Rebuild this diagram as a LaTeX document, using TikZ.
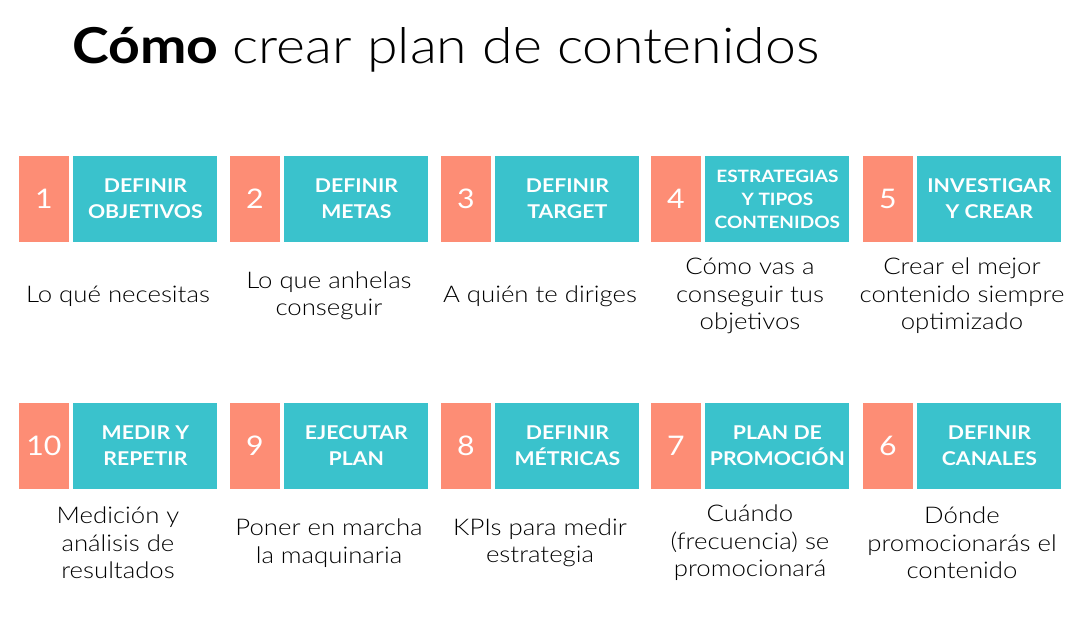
\documentclass[tikz,border=0pt]{standalone}
\usepackage{fontspec}
\setmainfont{Lato}[FakeStretch=1.12]
\newfontfamily\ligera{Lato Light}[FakeStretch=1.12]
\usetikzlibrary{positioning}
\definecolor{salmon}{HTML}{FD8D75}
\definecolor{turquesa}{HTML}{3AC2CC}
\tikzset{
	num box/.style={
		fill=salmon, text=white,
		minimum width=50pt, minimum height=86pt, inner sep=0pt,
		font=\fontsize{27}{27}\selectfont
	},
	paso box/.style={
		fill=turquesa, text=white,
		minimum width=144pt, minimum height=86pt, inner sep=0pt,
		align=center, font=\bfseries\fontsize{19}{26}\selectfont
	},
	paso small/.style={
		paso box, font=\bfseries\fontsize{17}{23}\selectfont
	},
	paso desc/.style={
		inner sep=0pt, align=center,
		font=\ligera\fontsize{23}{27.5}\selectfont
	}
}

\begin{document}
\begin{tikzpicture}[x=1pt, y=-1pt, node distance=4pt]
	\useasboundingbox (0,0) rectangle (1077,624);
	
	\node[anchor=base west, inner sep=0pt, font=\fontsize{49.5}{49.5}\selectfont] (titulo) at (72,63)
	{\textbf{Cómo} {\ligera crear plan de contenidos}};
	
	% fila de arriba: 1 a 5, fila de abajo: 10 a 6
	\foreach \n/\x/\y/\s/\t/\d in {
		1/19/199/paso box/{DEFINIR\\OBJETIVOS}/{Lo qué necesitas},
		2/230/199/paso box/{DEFINIR\\METAS}/{Lo que anhelas\\conseguir},
		3/441/199/paso box/{DEFINIR\\TARGET}/{A quién te diriges},
		4/651/199/paso small/{ESTRATEGIAS\\Y TIPOS\\CONTENIDOS}/{Cómo vas a\\conseguir tus\\objetivos},
		5/863/199/paso box/{INVESTIGAR\\Y CREAR}/{Crear el mejor\\contenido siempre\\optimizado},
		10/19/446/paso box/{MEDIR Y\\REPETIR}/{Medición y\\análisis de\\resultados},
		9/230/446/paso box/{EJECUTAR\\PLAN}/{Poner en marcha\\la maquinaria},
		8/441/446/paso box/{DEFINIR\\MÉTRICAS}/{KPIs para medir\\estrategia},
		7/651/446/paso box/{PLAN DE\\PROMOCIÓN}/{Cuándo\\(frecuencia) se\\promocionará},
		6/863/446/paso box/{DEFINIR\\CANALES}/{Dónde\\promocionarás el\\contenido}} {
		\node[num box] (num\n) at (\x+25,\y) {\n};
		\node[\s, right=of num\n] (paso\n) {\t};
		\node[paso desc] (desc\n) at (\x+99,\y+97) {\d};
	}
\end{tikzpicture}
\end{document}
